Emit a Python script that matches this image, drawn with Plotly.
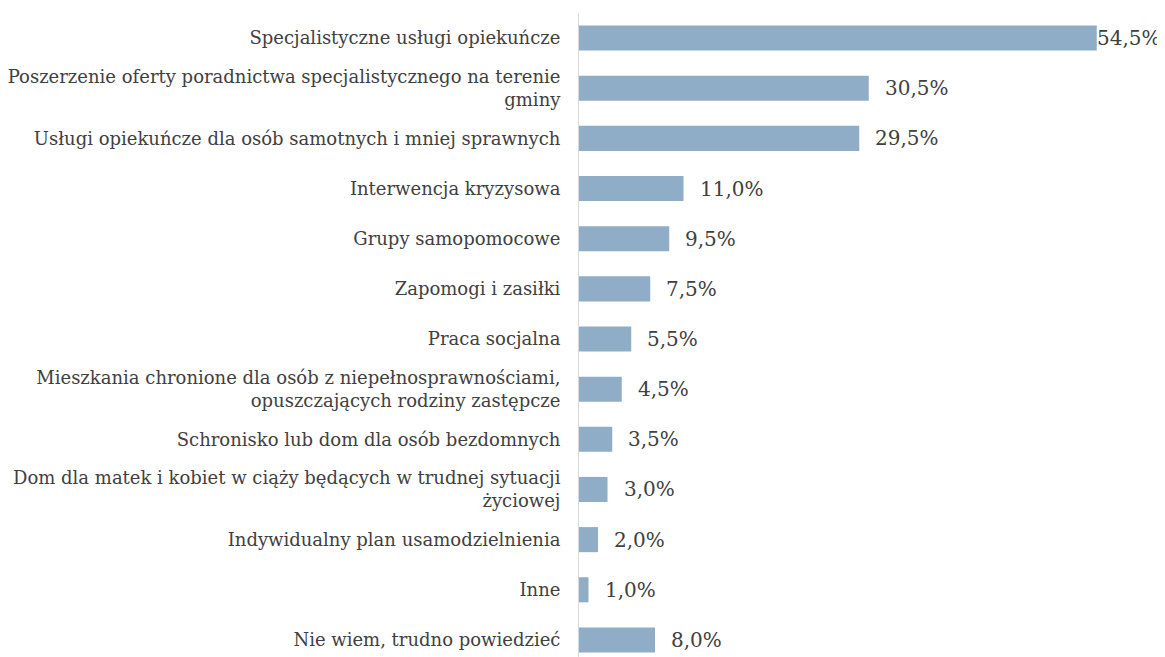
import plotly.graph_objects as go

categories = [
    "Specjalistyczne usługi opiekuńcze",
    "Poszerzenie oferty poradnictwa specjalistycznego na terenie<br>gminy",
    "Usługi opiekuńcze dla osób samotnych i mniej sprawnych",
    "Interwencja kryzysowa",
    "Grupy samopomocowe",
    "Zapomogi i zasiłki",
    "Praca socjalna",
    "Mieszkania chronione dla osób z niepełnosprawnościami,<br>opuszczających rodziny zastępcze",
    "Schronisko lub dom dla osób bezdomnych",
    "Dom dla matek i kobiet w ciąży będących w trudnej sytuacji<br>życiowej",
    "Indywidualny plan usamodzielnienia",
    "Inne",
    "Nie wiem, trudno powiedzieć",
]
values = [54.5, 30.5, 29.5, 11.0, 9.5, 7.5, 5.5, 4.5, 3.5, 3.0, 2.0, 1.0, 8.0]
value_labels = ["54,5%", "30,5%", "29,5%", "11,0%", "9,5%", "7,5%", "5,5%",
                "4,5%", "3,5%", "3,0%", "2,0%", "1,0%", "8,0%"]

FONT = "DejaVu Serif"
TXT = "#404040"

fig = go.Figure(go.Bar(
    x=values, y=categories, orientation="h",
    marker=dict(color="#8FADC7", line=dict(width=0)),
    width=0.5,
))

# value labels outside the bars, the longest one squeezed against the edge like excel does
for cat, v, lab in zip(categories, values, value_labels):
    fig.add_annotation(x=v, y=cat, text=lab, showarrow=False, xanchor="left",
                       xshift=-2 if v == max(values) else 14,
                       font=dict(family=FONT, size=20, color=TXT))

# page body has an 8px margin, so the figure is drawn a bit smaller
fig.update_layout(
    width=1157, height=649,
    margin=dict(l=571, r=16, t=5, b=0, autoexpand=False),
    plot_bgcolor="white", paper_bgcolor="white",
    showlegend=False,
    font=dict(family=FONT, size=18, color=TXT),
)
fig.update_xaxes(range=[0, 60], visible=False)
fig.update_yaxes(
    range=[12.34, -0.5], showgrid=False, showline=True, linecolor="#d9d9d9",
    linewidth=1, ticks="", ticklabelstandoff=14,
    tickfont=dict(family=FONT, size=18, color=TXT),
)

fig.write_html("out.html")
